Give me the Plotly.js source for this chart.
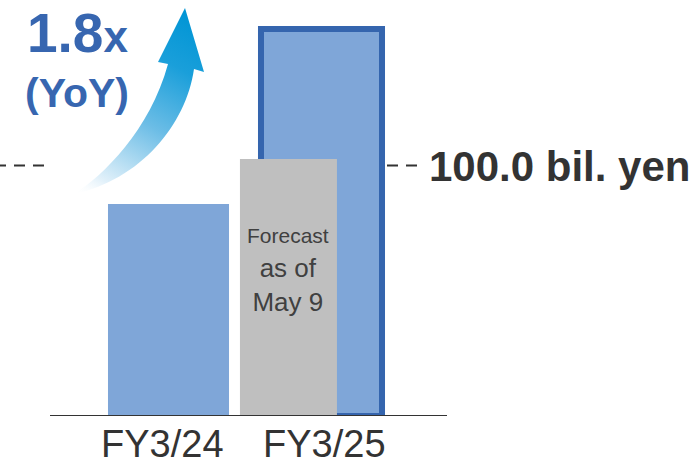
<!DOCTYPE html>
<html>
<head>
<meta charset="utf-8">
<script src="https://cdn.plot.ly/plotly-3.0.1.min.js"></script>
<style>html,body{margin:0;padding:0;background:#fff;}#chart{width:694px;height:466px;}</style>
</head>
<body>
<div id="chart"></div>
<script>
// ---- data ----
const categories = ['FY3/24', 'FY3/25'];
const actualValues = [84.6, 154.5];        // bil. yen
const forecastCategory = ['FY3/25'];
const forecastValues = [102.6];            // forecast as of May 9
const guideValue = 100.0;                  // dashed reference line
const guideLabel = '100.0 bil. yen';
const growthLabel = '1.8';
const forecastLabel = ['Forecast', 'as of', 'May 9'];

// ---- layout helpers ----
const W = 694, H = 466, B = 50, PH = H - B;
const pxPerUnit = 2.505;
const yMax = PH / pxPerUnit;
const x0px = 168.5, catPx = 153;
const xRange = [(0 - x0px) / catPx, (W - x0px) / catPx];
const px2x = p => p / W;
const py2y = p => 1 - p / PH;

const blue = '#7FA6D8', border = '#3565AE', gray = '#BFBFBF', ink = '#333333', accent = '#3766B0';

const arrowSvg = `<svg xmlns="http://www.w3.org/2000/svg" width="${W}" height="${PH}" viewBox="0 0 ${W} ${PH}">
<defs><linearGradient id="g" gradientUnits="userSpaceOnUse" x1="78" y1="196" x2="185" y2="10">
<stop offset="0" stop-color="#ffffff" stop-opacity="0"/>
<stop offset="0.12" stop-color="#e2f1fa"/>
<stop offset="0.45" stop-color="#6cbde6"/>
<stop offset="0.75" stop-color="#1a9fda"/>
<stop offset="1" stop-color="#0095d5"/>
</linearGradient></defs>
<path d="M185 8 L204 72 L194 69 C186 125 140 180 74 194 C103 176 150 130 168 64 L158 62 Z" fill="url(#g)"/>
</svg>`;

const traces = [
  {
    type: 'bar', x: categories, y: actualValues, width: 0.791,
    marker: { color: blue, line: { color: ['rgba(0,0,0,0)', border], width: [0, 6] } },
    hoverinfo: 'skip', showlegend: false
  },
  {
    type: 'bar', x: forecastCategory, y: forecastValues, width: 0.634, offset: -0.533,
    marker: { color: gray, line: { width: 0 } },
    hoverinfo: 'skip', showlegend: false
  }
];

const labelShift = [-6, 3];

const annotations = [
  { xref: 'paper', yref: 'paper', x: px2x(26), y: py2y(33), xanchor: 'left', yanchor: 'middle',
    showarrow: false, borderpad: 0,
    text: '<b>' + growthLabel + '<span style="font-size:44px">x</span></b>',
    font: { size: 55, color: accent } },
  { xref: 'paper', yref: 'paper', x: px2x(76.5), y: py2y(93), xanchor: 'center', yanchor: 'middle',
    showarrow: false, borderpad: 0, text: '<b>(YoY)</b>', font: { size: 41, color: accent } },
  { xref: 'paper', yref: 'paper', x: px2x(428), y: py2y(166), xanchor: 'left', yanchor: 'middle',
    showarrow: false, borderpad: 0, text: '<b>' + guideLabel + '</b>', font: { size: 42, color: ink } },
  { xref: 'paper', yref: 'paper', x: px2x(288), y: py2y(270), xanchor: 'center', yanchor: 'middle',
    showarrow: false, borderpad: 0,
    text: '<span style="font-size:21px">' + forecastLabel[0] + '</span><br>' + forecastLabel[1] + '<br>' + forecastLabel[2],
    font: { size: 26, color: '#404040' } }
];
categories.forEach((c, i) => annotations.push({
  xref: 'x', yref: 'y', x: c, y: 0, xanchor: 'center', yanchor: 'top', yshift: -6, xshift: labelShift[i],
  showarrow: false, borderpad: 0, text: c, font: { size: 38, color: ink }
}));

const layout = {
  width: W, height: H,
  margin: { l: 0, r: 0, t: 0, b: B, pad: 0 },
  paper_bgcolor: '#fff', plot_bgcolor: '#fff',
  barmode: 'overlay',
  font: { family: 'Liberation Sans, Arial, sans-serif', color: ink },
  xaxis: {
    type: 'category', range: xRange, showgrid: false, zeroline: false, showline: false,
    ticks: '', showticklabels: false, fixedrange: true
  },
  yaxis: { range: [0, yMax], visible: false, fixedrange: true },
  shapes: [
    { type: 'line', xref: 'paper', yref: 'y', x0: px2x(50), x1: px2x(447), y0: 0, y1: 0,
      line: { color: ink, width: 2 }, layer: 'above' },
    { type: 'line', xref: 'paper', yref: 'y', x0: px2x(-5), x1: px2x(44), y0: guideValue, y1: guideValue,
      line: { color: ink, width: 2, dash: '11px,8px' }, layer: 'above' },
    { type: 'line', xref: 'paper', yref: 'y', x0: px2x(387), x1: px2x(418), y0: guideValue, y1: guideValue,
      line: { color: ink, width: 2, dash: '11px,8px' }, layer: 'above' }
  ],
  images: [{
    source: 'data:image/svg+xml;charset=utf-8,' + encodeURIComponent(arrowSvg),
    xref: 'paper', yref: 'paper', x: 0, y: 1, sizex: 1, sizey: 1,
    xanchor: 'left', yanchor: 'top', sizing: 'stretch', layer: 'above'
  }],
  annotations: annotations
};

Plotly.newPlot('chart', traces, layout, { staticPlot: true, displayModeBar: false });
</script>
</body>
</html>
